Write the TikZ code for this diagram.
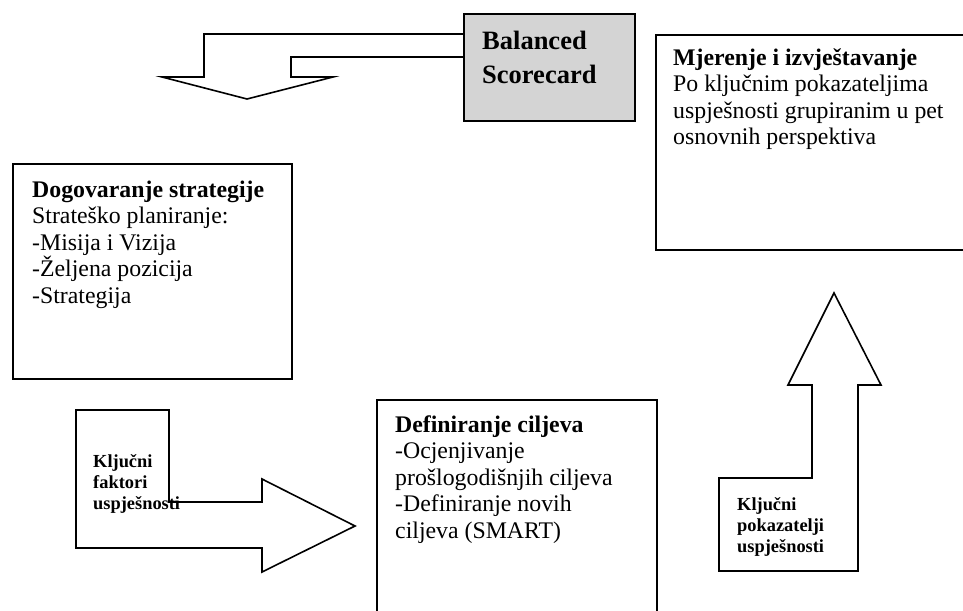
\documentclass[tikz,border=0pt]{standalone}
\usepackage{fontspec}
\setmainfont{Liberation Serif}
\usepackage{tikz}
\usetikzlibrary{positioning}
\usepackage{xcolor}
\definecolor{scgray}{HTML}{D4D4D4}
\newcommand{\tightlines}{\setlength{\lineskiplimit}{-50pt}}

\begin{document}
\begin{tikzpicture}[x=1pt, y=-1pt,
      box/.style={rectangle, draw=black, fill=white, line width=1.6pt, anchor=north west, inner sep=0pt},
      blockarrow/.style={draw=black, fill=white, line width=1.6pt, line join=miter},
      boxtext/.style={anchor=north west, inner sep=0pt, align=left, font=\fontsize{23.8}{26.5}\selectfont\tightlines},
      arrowtext/.style={anchor=north west, inner sep=0pt, align=left, font=\fontsize{18.4}{21}\selectfont\bfseries\tightlines},
    ]
    \useasboundingbox (0,0) rectangle (963,610);
    \clip (0,0) rectangle (963,610);

    % boxes
    \node[box, minimum width=279pt, minimum height=215pt] (strategija) at (12,163) {};
    \node[box, minimum width=280pt, minimum height=250pt] (ciljevi) at (376,399) {};
    \node[box, minimum width=330pt, minimum height=215pt] (mjerenje) at (655,34) {};

    % block arrows
    \draw[blockarrow] (76,410) -- (169,410) -- (169,502) -- (262,502) -- (262,479) -- (355,526)
      -- (262,572) -- (262,548) -- (76,548) -- cycle;
    \draw[blockarrow] (834,293) -- (881,385) -- (858,385) -- (858,571) -- (719,571) -- (719,478)
      -- (812,478) -- (812,385) -- (788,385) -- cycle;
    \draw[blockarrow] (463,34) -- (204,34) -- (204,77) -- (162,77) -- (247,99) -- (333,77)
      -- (291,77) -- (291,57) -- (463,57);

    \node[box, fill=scgray, minimum width=171pt, minimum height=107pt] (bsc) at (463,13) {};

    % texts
    \node[anchor=north west, inner sep=0pt, align=left, font=\fontsize{26.5}{34}\selectfont\bfseries,
      below right=18pt and 19pt of bsc.north west] (bsc-txt) {Balanced\\Scorecard};
    \node[boxtext, below right=17.5pt and 20pt of strategija.north west] (strategija-txt)
      {\textbf{Dogovaranje strategije}\\Strateško planiranje:\\-Misija i Vizija\\-Željena pozicija\\-Strategija};
    \node[boxtext, below right=16.5pt and 19pt of ciljevi.north west] (ciljevi-txt)
      {\textbf{Definiranje ciljeva}\\-Ocjenjivanje\\prošlogodišnjih ciljeva\\-Definiranje novih\\ciljeva (SMART)};
    \node[boxtext, below right=14.5pt and 18pt of mjerenje.north west] (mjerenje-txt)
      {\textbf{Mjerenje i izvještavanje}\\Po ključnim pokazateljima\\uspješnosti grupiranim u pet\\osnovnih perspektiva};
    \node[arrowtext] (faktori) at (93,454) {Ključni\\faktori\\uspješnosti};
    \node[arrowtext] (pokazatelji) at (737,497) {Ključni\\pokazatelji\\uspješnosti};
  \end{tikzpicture}
\end{document}
